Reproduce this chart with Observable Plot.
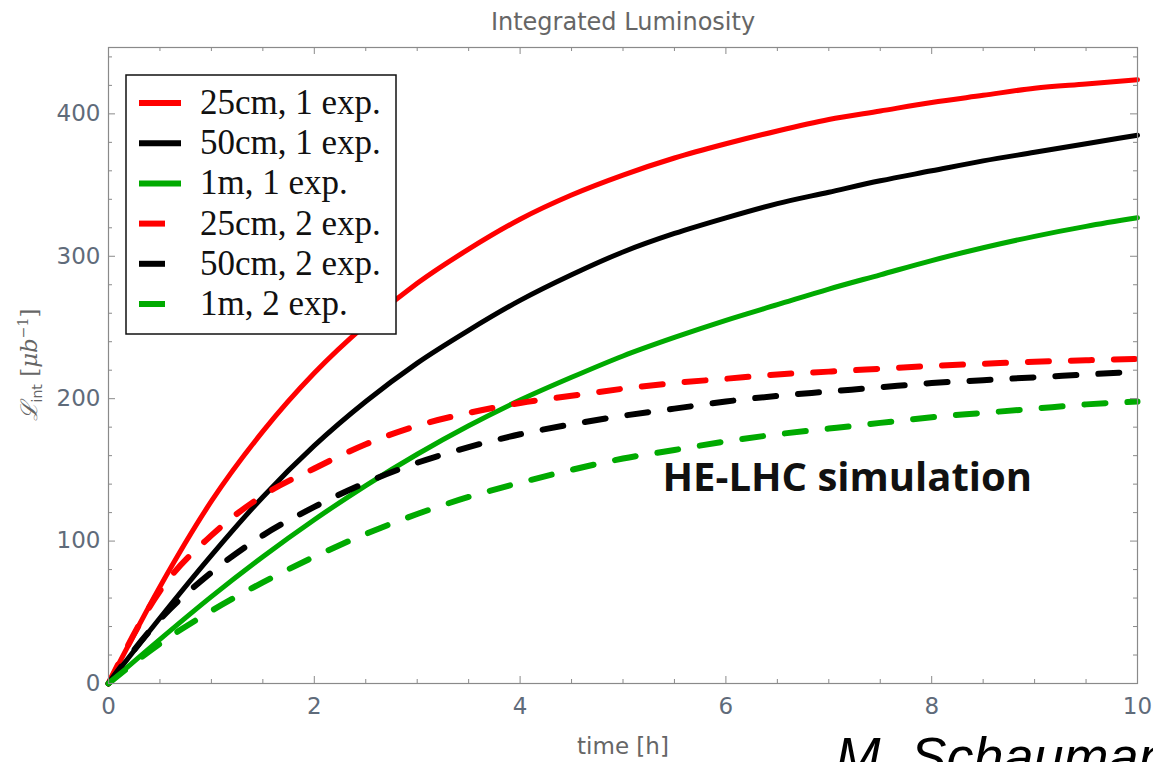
<!DOCTYPE html>
<html>
<head>
<meta charset="utf-8">
<script src="https://cdn.jsdelivr.net/npm/d3@7"></script>
<script src="https://cdn.jsdelivr.net/npm/@observablehq/plot@0.6"></script>
<style>
  html, body { margin: 0; padding: 0; background: white; overflow: hidden; }
</style>
</head>
<body>
<div id="chart"></div>
<script>
// ---- data ----
const times = [0, 0.5, 1, 1.5, 2, 2.5, 3, 3.5, 4, 4.5, 5, 5.5, 6, 6.5, 7, 7.5, 8, 8.5, 9, 9.5, 10];
const red1   = [0, 68, 128, 177, 218, 252, 281, 305, 326, 343, 357, 369, 379, 388, 396, 402, 408, 413, 418, 421, 424];
const black1 = [0, 46, 90, 131, 167, 198, 225, 248, 269, 287, 303, 316, 327, 337, 345, 353, 360, 367, 373, 379, 385];
const green1 = [0, 31, 61, 89, 115, 139, 161, 181, 199, 215, 230, 243, 255, 266, 277, 287, 297, 306, 314, 321, 327];
const red2   = [0, 65, 104, 132, 151, 168, 181, 190, 197, 202, 207, 211, 214, 217, 219, 221, 223, 224.5, 226, 227, 228];
const black2 = [0, 45, 78, 104, 124, 141, 155, 166, 175, 182, 188, 193, 198, 202, 205, 208, 211, 213, 215, 217, 219];
const green2 = [0, 28, 51, 71, 89, 105, 119, 131, 141, 150, 158, 164, 170, 175, 179, 183, 187, 190, 193, 196, 198];

const seriesNames  = ["25cm, 1 exp.", "50cm, 1 exp.", "1m, 1 exp.", "25cm, 2 exp.", "50cm, 2 exp.", "1m, 2 exp."];
const seriesValues = [red1, black1, green1, red2, black2, green2];
const seriesColors = ["#ff0000", "#000000", "#00aa00", "#ff0000", "#000000", "#00aa00"];
const seriesDashed = [false, false, false, true, true, true];

const xMajor = [0, 2, 4, 6, 8, 10];
const xMinor = d3.range(0, 10.001, 0.5).filter(v => !xMajor.includes(v));
const yMajor = [0, 100, 200, 300, 400];
const yMinor = d3.range(0, 441, 20).filter(v => !yMajor.includes(v));

const titleText = "Integrated Luminosity";
const xLabelText = "time [h]";
const annotationText = "HE-LHC simulation";
const creditText = "M. Schaumann";

// ---- layout ----
const W = 1153, H = 762;
const mL = 108, mR = 16, mT = 47, mB = 79;
const plotW = W - mL - mR, plotH = H - mT - mB;
const tickCol = "#8a8a8a";
const labCol = "#5f6b7a";

const lineMarks = seriesNames.map((name, i) => {
  const rows = times.map((t, j) => ({t, v: seriesValues[i][j], series: name}));
  return Plot.line(rows, {
    x: "t", y: "v",
    stroke: seriesColors[i],
    strokeWidth: seriesDashed[i] ? 6 : 5,
    strokeDasharray: seriesDashed[i] ? "21,22" : null,
    curve: "monotone-x"
  });
});

const chart = Plot.plot({
  width: W, height: H,
  marginLeft: mL, marginRight: mR, marginTop: mT, marginBottom: mB,
  x: {domain: [0, 10]},
  y: {domain: [0, 446.6]},
  style: {fontFamily: "DejaVu Sans", background: "white"},
  marks: [
    ...lineMarks,
    // inward ticks bottom / top
    Plot.ruleX(xMinor, {stroke: tickCol, insetTop: plotH - 4}),
    Plot.ruleX(xMajor, {stroke: tickCol, insetTop: plotH - 7}),
    Plot.ruleX(xMinor, {stroke: tickCol, insetBottom: plotH - 4}),
    Plot.ruleX(xMajor, {stroke: tickCol, insetBottom: plotH - 7}),
    // inward ticks left / right
    Plot.ruleY(yMinor, {stroke: tickCol, insetRight: plotW - 4}),
    Plot.ruleY(yMajor, {stroke: tickCol, insetRight: plotW - 7}),
    Plot.ruleY(yMinor, {stroke: tickCol, insetLeft: plotW - 4}),
    Plot.ruleY(yMajor, {stroke: tickCol, insetLeft: plotW - 7}),
    Plot.frame({stroke: tickCol, strokeWidth: 1.2}),
    Plot.axisX(xMajor, {tickSize: 0, tickPadding: 14, fontSize: 23, fill: labCol, label: null}),
    Plot.axisY(yMajor, {tickSize: 0, tickPadding: 8, fontSize: 23, fill: labCol, label: null}),
    Plot.text([titleText], {text: d => d, frameAnchor: "top", lineAnchor: "middle", dy: -25, fontSize: 24, fill: "#666"}),
    Plot.text([xLabelText], {text: d => d, frameAnchor: "bottom", lineAnchor: "middle", dy: 63, fontSize: 23, fill: "#666"}),
    Plot.text([annotationText], {text: d => d, frameAnchor: "top-left", lineAnchor: "middle", textAnchor: "start",
      dx: 554, dy: 431, fontSize: 40, fontWeight: "bold", fontFamily: "Open Sans", fill: "#111"}),
    Plot.text([creditText], {text: d => d, frameAnchor: "bottom-left", lineAnchor: "middle", textAnchor: "start",
      dx: 727, dy: 74, fontSize: 54, fontStyle: "italic", fontFamily: "Liberation Sans", fill: "#000"})
  ]
});

document.getElementById("chart").append(chart);

// ---- y-axis label (with sub/superscripts) ----
const svg = d3.select(chart);
const yl = svg.append("text")
  .attr("transform", "translate(37,365) rotate(-90)")
  .attr("text-anchor", "middle")
  .attr("fill", "#666")
  .attr("font-family", "DejaVu Serif")
  .attr("font-size", 23);
yl.append("tspan").attr("font-style", "italic").text("ℒ");
yl.append("tspan").attr("font-family", "DejaVu Sans").attr("font-size", 14).attr("dy", 5).text("int");
yl.append("tspan").attr("dy", -5).text(" [");
yl.append("tspan").attr("font-style", "italic").text("μb");
yl.append("tspan").attr("font-size", 14).attr("dy", -9).text("−1");
yl.append("tspan").attr("dy", 9).text("]");

// ---- legend ----
const lg = svg.append("g").attr("text-anchor", "start");
lg.append("rect").attr("x", 126).attr("y", 75).attr("width", 270).attr("height", 259)
  .attr("fill", "white").attr("stroke", "#111").attr("stroke-width", 1.5);
seriesNames.forEach((name, i) => {
  const cy = 103 + i * 40.2;
  lg.append("line")
    .attr("x1", 139).attr("x2", seriesDashed[i] ? 165 : 181)
    .attr("y1", cy).attr("y2", cy)
    .attr("stroke", seriesColors[i]).attr("stroke-width", 6);
  lg.append("text").attr("x", 200).attr("y", cy + 11)
    .attr("text-anchor", "start")
    .attr("font-family", "Liberation Serif").attr("font-size", 35).attr("fill", "#111")
    .text(name);
});
</script>
</body>
</html>
